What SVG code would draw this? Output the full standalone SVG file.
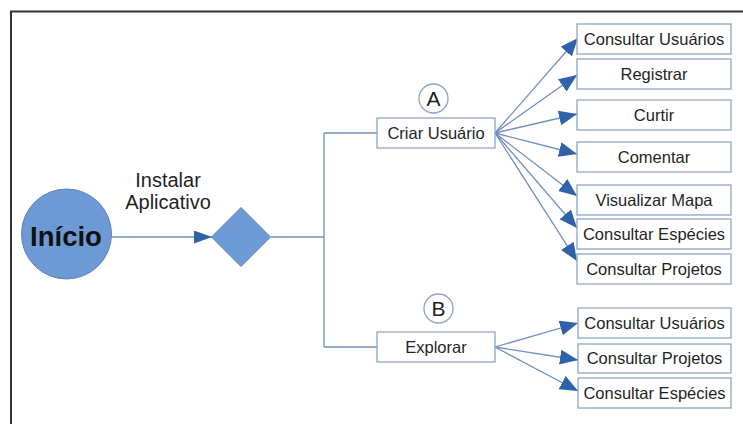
<svg xmlns="http://www.w3.org/2000/svg" width="743" height="424" viewBox="0 0 743 424">
  <defs>
    <marker id="arrow" markerUnits="userSpaceOnUse" markerWidth="20" markerHeight="16" refX="18" refY="7.5" orient="auto">
      <path d="M0,0 L18,7.5 L0,15 Z" fill="#2f62a8"/>
    </marker>
    <marker id="arrowSmall" markerUnits="userSpaceOnUse" markerWidth="20" markerHeight="16" refX="18" refY="6.5" orient="auto">
      <path d="M0,0 L18,6.5 L0,13 Z" fill="#2f62a8"/>
    </marker>
    <style>
      .frame { fill: none; stroke: #333333; stroke-width: 2; }
      .link { fill: none; stroke: #6f8fbf; stroke-width: 1.3; }
      .box { fill: #ffffff; stroke: #8ea5c3; stroke-width: 1.3; }
      .label { font-family: "Liberation Sans", Arial, sans-serif; font-size: 16.5px; fill: #1f1f1f; text-anchor: middle; }
      .tag { fill: #ffffff; stroke: #8ea5c3; stroke-width: 1.3; }
      .tagText { font-family: "Liberation Sans", Arial, sans-serif; font-size: 21px; fill: #1f1f1f; text-anchor: middle; }
    </style>
  </defs>

  <rect width="743" height="424" fill="#ffffff"/>
  <!-- outer frame: top and left edges only -->
  <path class="frame" d="M11,424 V11.5 H743"/>

  <!-- connectors -->
  <g id="connectors">
    <path class="link" d="M111,237 H212" marker-end="url(#arrowSmall)"/>
    <path class="link" d="M271,237 H324"/>
    <path class="link" d="M324,133 V347"/>
    <path class="link" d="M324,133 H377"/>
    <path class="link" d="M324,347 H377"/>

    <path class="link" d="M495,133 L578,38" marker-end="url(#arrow)"/>
    <path class="link" d="M495,133 L577,75" marker-end="url(#arrow)"/>
    <path class="link" d="M495,133 L577,114" marker-end="url(#arrow)"/>
    <path class="link" d="M495,133 L577,154" marker-end="url(#arrow)"/>
    <path class="link" d="M495,133 L577,196" marker-end="url(#arrow)"/>
    <path class="link" d="M495,133 L577,228" marker-end="url(#arrow)"/>
    <path class="link" d="M495,133 L577,261" marker-end="url(#arrow)"/>

    <path class="link" d="M495,347 L578,323" marker-end="url(#arrow)"/>
    <path class="link" d="M495,347 L578,360" marker-end="url(#arrow)"/>
    <path class="link" d="M495,347 L578,391" marker-end="url(#arrow)"/>
  </g>

  <text class="label" x="168" y="187" style="font-size:20px">Instalar</text>
  <text class="label" x="168" y="209" style="font-size:20px">Aplicativo</text>

  <g id="inicio">
    <circle cx="66.5" cy="234" r="45" fill="#6d9ad4" stroke="#5b84bd" stroke-width="1"/>
    <text x="66" y="246" font-family="Liberation Sans, Arial, sans-serif" font-size="27.5" font-weight="bold" fill="#111111" text-anchor="middle">Início</text>
  </g>

  <g id="decisao">
    <path d="M241,207.5 L270.5,237 L241,266.5 L211.5,237 Z" fill="#6d9ad4" stroke="#5b84bd" stroke-width="1"/>
  </g>

  <g id="tag-a">
    <circle class="tag" cx="433.5" cy="98.5" r="14.5"/>
    <text class="tagText" x="433.5" y="106">A</text>
  </g>
  <g id="tag-b">
    <circle class="tag" cx="438.5" cy="308.5" r="14.5"/>
    <text class="tagText" x="438.5" y="316">B</text>
  </g>

  <g id="criar-usuario">
    <rect class="box" x="377" y="118" width="118" height="30"/>
    <text class="label" x="436" y="139">Criar Usuário</text>
  </g>
  <g id="explorar">
    <rect class="box" x="377" y="332" width="118" height="30"/>
    <text class="label" x="436" y="353">Explorar</text>
  </g>

  <!-- actions under "Criar Usuário" -->
  <g id="a-consultar-usuarios">
    <rect class="box" x="577" y="24" width="154" height="30"/>
    <text class="label" x="654" y="45">Consultar Usuários</text>
  </g>
  <g id="a-registrar">
    <rect class="box" x="577" y="59" width="154" height="30"/>
    <text class="label" x="654" y="80">Registrar</text>
  </g>
  <g id="a-curtir">
    <rect class="box" x="577" y="100" width="154" height="30"/>
    <text class="label" x="654" y="121">Curtir</text>
  </g>
  <g id="a-comentar">
    <rect class="box" x="577" y="142" width="154" height="30"/>
    <text class="label" x="654" y="163">Comentar</text>
  </g>
  <g id="a-visualizar-mapa">
    <rect class="box" x="577" y="185" width="154" height="30"/>
    <text class="label" x="654" y="206">Visualizar Mapa</text>
  </g>
  <g id="a-consultar-especies">
    <rect class="box" x="577" y="219" width="154" height="30"/>
    <text class="label" x="654" y="240">Consultar Espécies</text>
  </g>
  <g id="a-consultar-projetos">
    <rect class="box" x="577" y="254" width="154" height="30"/>
    <text class="label" x="654" y="275">Consultar Projetos</text>
  </g>

  <!-- actions under "Explorar" -->
  <g id="b-consultar-usuarios">
    <rect class="box" x="578" y="308" width="153" height="30"/>
    <text class="label" x="654.5" y="329">Consultar Usuários</text>
  </g>
  <g id="b-consultar-projetos">
    <rect class="box" x="578" y="344" width="153" height="29"/>
    <text class="label" x="654.5" y="364">Consultar Projetos</text>
  </g>
  <g id="b-consultar-especies">
    <rect class="box" x="578" y="378" width="153" height="30"/>
    <text class="label" x="654.5" y="399">Consultar Espécies</text>
  </g>
</svg>
